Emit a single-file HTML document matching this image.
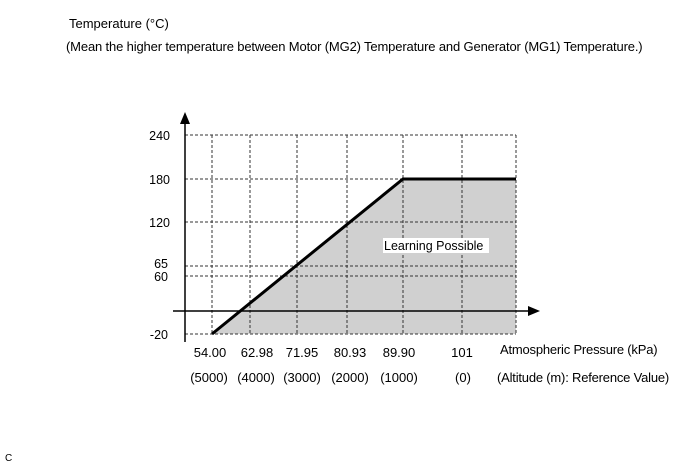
<!DOCTYPE html>
<html><head><style>
body{margin:0;background:#fff;width:688px;height:463px;overflow:hidden;font-family:"Liberation Sans",Arial,sans-serif}
</style></head><body>
<svg width="688" height="463" xmlns="http://www.w3.org/2000/svg" font-family="Liberation Sans, Arial, sans-serif" font-size="13" fill="#000">
<text x="69" y="28">Temperature (°C)</text>
<text x="66" y="51" letter-spacing="-0.15">(Mean the higher temperature between Motor (MG2) Temperature and Generator (MG1) Temperature.)</text>
<polygon points="212,334 403,179 516,179 516,334" fill="#d0d0d0"/>
<g stroke="#333" stroke-width="1" stroke-dasharray="3,2" fill="none">
<line x1="185" y1="135" x2="516" y2="135"/>
<line x1="185" y1="179" x2="516" y2="179"/>
<line x1="185" y1="222" x2="516" y2="222"/>
<line x1="185" y1="266" x2="516" y2="266"/>
<line x1="185" y1="276" x2="516" y2="276"/>
<line x1="185" y1="334" x2="516" y2="334"/>
<line x1="212" y1="135" x2="212" y2="334"/>
<line x1="250" y1="135" x2="250" y2="334"/>
<line x1="297" y1="135" x2="297" y2="334"/>
<line x1="347" y1="135" x2="347" y2="334"/>
<line x1="403" y1="135" x2="403" y2="334"/>
<line x1="462" y1="135" x2="462" y2="334"/>
<line x1="516" y1="135" x2="516" y2="334"/>
</g>
<rect x="383" y="238" width="106" height="15" fill="#fff"/>
<text x="384" y="250" font-size="12.5">Learning Possible</text>
<line x1="185" y1="122" x2="185" y2="342" stroke="#000" stroke-width="1.5"/>
<polygon points="185,112 180,124 190,124" fill="#000"/>
<line x1="173" y1="311" x2="528" y2="311" stroke="#000" stroke-width="1.5"/>
<polygon points="540,311 528,306 528,316" fill="#000"/>
<polyline points="212,334 403,179 516,179" fill="none" stroke="#000" stroke-width="3"/>
<g text-anchor="end" font-size="12.5">
<text x="170" y="140">240</text>
<text x="170" y="184">180</text>
<text x="170" y="227">120</text>
<text x="168" y="268">65</text>
<text x="168" y="281">60</text>
<text x="168" y="339">-20</text>
</g>
<g text-anchor="middle">
<text x="210" y="357">54.00</text>
<text x="257" y="357">62.98</text>
<text x="302" y="357">71.95</text>
<text x="350" y="357">80.93</text>
<text x="399" y="357">89.90</text>
<text x="462" y="357">101</text>
<text x="209" y="382">(5000)</text>
<text x="256" y="382">(4000)</text>
<text x="302" y="382">(3000)</text>
<text x="350" y="382">(2000)</text>
<text x="399" y="382">(1000)</text>
<text x="463" y="382">(0)</text>
</g>
<text x="500" y="354" letter-spacing="-0.2">Atmospheric Pressure (kPa)</text>
<text x="497" y="382" letter-spacing="-0.2">(Altitude (m): Reference Value)</text>
<text x="5" y="461" font-size="10">C</text>
</svg>
</body></html>
